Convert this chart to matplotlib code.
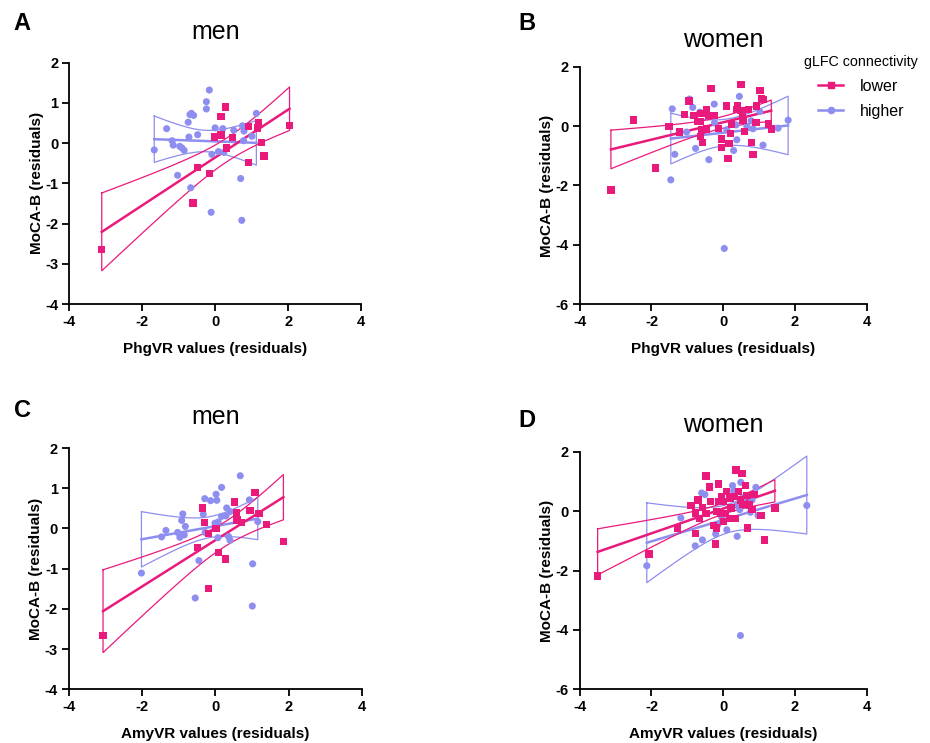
import numpy as np
import matplotlib
matplotlib.use("Agg")
import matplotlib.pyplot as plt
from matplotlib.lines import Line2D

plt.rcParams['font.family'] = ['Liberation Sans', 'DejaVu Sans']
plt.rcParams['axes.unicode_minus'] = False

# ---------------- data ----------------
# Panel A: men, PhgVR
a_low_x = [-3.11, 0.29, 0.16, 1.19, 0.91, 1.16, 2.04, -0.01, 0.16, 0.47, 0.31, 1.28, 1.34, 0.92, -0.48, -0.16, -0.61]
a_low_y = [-2.65, 0.90, 0.67, 0.51, 0.41, 0.38, 0.44, 0.15, 0.20, 0.14, -0.12, 0.02, -0.32, -0.48, -0.60, -0.75, -1.49]
a_high_x = [-0.16, -0.24, -0.24, -0.69, -0.65, -0.59, -0.74, 1.13, -1.33, 0.00, 0.21, 0.51, 0.75, 0.79, 1.01, -0.72,
            -0.48, -1.18, -1.15, -0.97, -0.91, -0.85, -1.67, 0.78, 0.09, 0.24, -0.09, -1.03, -0.67, 0.70, -0.11, 0.73]
a_high_y = [1.32, 1.03, 0.85, 0.71, 0.74, 0.69, 0.52, 0.74, 0.36, 0.38, 0.36, 0.32, 0.43, 0.30, 0.17, 0.15,
            0.21, 0.06, -0.05, -0.08, -0.12, -0.18, -0.17, 0.06, -0.21, -0.23, -0.28, -0.80, -1.11, -0.88, -1.72, -1.92]

# Panel B: women, PhgVR
b_low_x = [-3.13, -1.89, -2.50, -1.51, -1.21, -1.08, -0.95, -0.34, 0.50, 1.03, 1.06, 1.13, 0.09, 0.40, 0.92, 0.71,
           0.38, 0.50, 0.54, -0.47, -0.81, -0.62, -0.41, -0.25, -0.72, -0.64, 0.55, 0.23, 0.91, -0.60, -0.46, -0.13,
           0.20, 0.59, 1.34, -0.64, -0.58, -0.04, -0.04, 0.16, 0.78, 0.13, 0.83, 1.26]
b_low_y = [-2.15, -1.41, 0.21, -0.01, -0.20, 0.38, 0.84, 1.26, 1.39, 1.19, 0.92, 0.89, 0.68, 0.70, 0.68, 0.56,
           0.55, 0.53, 0.46, 0.55, 0.36, 0.42, 0.36, 0.36, 0.16, 0.16, 0.21, 0.07, 0.13, -0.12, -0.10, -0.07,
           -0.24, -0.18, -0.10, -0.35, -0.55, -0.44, -0.72, -0.59, -0.55, -1.09, -0.95, 0.07]
b_high_x = [-1.42, -1.35, -1.46, -1.02, -0.77, -0.40, -0.94, -0.85, -0.65, -0.25, 0.45, -0.24, 0.10, 0.38, 0.29,
            0.66, 0.83, 0.78, 1.02, 1.11, 1.53, 1.81, 0.03, 0.36, 0.57]
b_high_y = [0.58, -0.95, -1.81, -0.20, -0.75, -1.13, 0.91, 0.63, 0.47, 0.74, 1.00, 0.11, -0.12, -0.46, -0.82,
            -0.01, -0.09, 0.18, 0.49, -0.64, -0.07, 0.20, -4.12, 0.04, 0.33]

# Panel C: men, AmyVR
c_low_x = [-3.07, 1.08, 0.52, -0.36, 0.95, 0.57, 1.19, 0.59, 0.72, -0.30, 0.02, -0.19, 1.39, 1.86, -0.48, 0.08, 0.27, -0.19]
c_low_y = [-2.66, 0.89, 0.66, 0.51, 0.44, 0.40, 0.37, 0.21, 0.14, 0.14, 0.00, -0.12, 0.09, -0.33, -0.48, -0.60, -0.76, -1.49]
c_high_x = [0.68, 0.17, 0.02, -0.29, -0.13, 0.04, 0.93, -0.89, -0.33, 0.31, 0.40, 0.17, 0.29, -0.92, 0.08, -0.01,
            1.16, -0.82, -1.35, -1.03, -0.85, -0.97, -1.47, -0.28, 0.07, 0.36, 0.40, -2.02, -0.45, 1.02, -0.55, 1.01]
c_high_y = [1.31, 1.02, 0.85, 0.74, 0.69, 0.70, 0.71, 0.36, 0.35, 0.51, 0.42, 0.30, 0.31, 0.20, 0.16, 0.13,
            0.17, 0.05, -0.05, -0.10, -0.16, -0.22, -0.21, -0.10, -0.23, -0.20, -0.29, -1.11, -0.80, -0.88, -1.73, -1.93]

# Panel D: women, AmyVR
d_low_x = [-3.50, -2.07, -1.28, -0.77, -0.22, -0.90, -0.70, -0.48, -0.38, -0.13, -0.57, -0.78, -0.66, -0.36, -0.48,
           -0.27, -0.18, -0.13, -0.04, -0.01, -0.18, -0.07, 0.01, 0.10, 0.18, 0.19, 0.30, 0.22, 0.36, 0.52, 0.63,
           0.43, 0.34, 0.06, 0.66, 0.73, 0.80, 0.88, 1.05, 0.68, 1.15, 1.44, 0.48, 0.54]
d_low_y = [-2.18, -1.44, -0.57, -0.76, -1.11, 0.19, 0.37, 1.18, 0.81, 0.91, 0.13, -0.06, -0.25, 0.32, -0.08,
           -0.48, -0.57, 0.32, 0.50, 0.33, -0.01, -0.08, -0.34, 0.67, -0.26, 0.42, 0.50, 0.11, 1.38, 1.26, 0.87,
           0.65, -0.26, -0.08, 0.52, 0.20, 0.05, 0.56, -0.14, -0.57, -0.97, 0.10, 0.37, 0.22]
d_high_x = [-2.13, -1.18, -0.78, -0.58, -0.60, -0.51, -0.21, -0.15, 0.10, 0.39, 0.26, 0.49, 0.29, 0.91, 0.80,
            0.57, 0.46, 0.76, 0.97, 2.33, 0.48, -0.04, 0.38]
d_high_y = [-1.84, -0.23, -1.17, -0.97, 0.61, 0.56, -0.77, -0.46, -0.63, -0.85, 0.86, 0.97, 0.69, 0.80, 0.37,
            0.45, 0.05, -0.04, -0.15, 0.19, -4.19, -0.21, 0.19]

panel_letters = ['A', 'B', 'C', 'D']
panel_titles = ['men', 'women', 'men', 'women']
x_labels = ['PhgVR values (residuals)', 'PhgVR values (residuals)',
            'AmyVR values (residuals)', 'AmyVR values (residuals)']
y_label = 'MoCA-B (residuals)'
legend_title = 'gLFC connectivity'
group_names = ['lower', 'higher']
x_ticks = [-4, -2, 0, 2, 4]
y_ticks_men = [-4, -3, -2, -1, 0, 1, 2]
y_ticks_women = [-6, -4, -2, 0, 2]

PINK = '#EA1A7C'
BLUE = '#8E8EF0'


def t975(df):
    z = 1.959964
    g1 = (z**3 + z) / 4
    g2 = (5*z**5 + 16*z**3 + 3*z) / 96
    g3 = (3*z**7 + 19*z**5 + 17*z**3 - 15*z) / 384
    return z + g1/df + g2/df**2 + g3/df**3


def fit_with_band(ax, x, y, color, lw_line=1.8, lw_band=0.9):
    x = np.asarray(x, float)
    y = np.asarray(y, float)
    n = len(x)
    b, a = np.polyfit(x, y, 1)
    xs = np.linspace(x.min(), x.max(), 100)
    yh = a + b * xs
    resid = y - (a + b * x)
    s = np.sqrt(np.sum(resid**2) / (n - 2))
    sxx = np.sum((x - x.mean())**2)
    se = s * np.sqrt(1.0/n + (xs - x.mean())**2 / sxx)
    t = t975(n - 2)
    up = yh + t * se
    lo = yh - t * se
    ax.plot(xs, yh, color=color, lw=lw_line, zorder=3)
    px = np.concatenate([xs, xs[::-1], xs[:1]])
    py = np.concatenate([up, lo[::-1], up[:1]])
    ax.plot(px, py, color=color, lw=lw_band, zorder=3)


fig = plt.figure(figsize=(9.3, 7.43), dpi=100)

rects = [
    (69.3/930, 1 - 304.0/743, (361.0 - 69.3)/930, (304.0 - 62.7)/743),
    (579.7/930, 1 - 304.3/743, (866.7 - 579.7)/930, (304.3 - 66.7)/743),
    (69.0/930, 1 - 689.3/743, (361.7 - 69.0)/930, (689.3 - 448.0)/743),
    (579.7/930, 1 - 689.3/743, (866.7 - 579.7)/930, (689.3 - 451.7)/743),
]

data = [
    (a_low_x, a_low_y, a_high_x, a_high_y),
    (b_low_x, b_low_y, b_high_x, b_high_y),
    (c_low_x, c_low_y, c_high_x, c_high_y),
    (d_low_x, d_low_y, d_high_x, d_high_y),
]

for i, (rect, (lx, ly, hx, hy)) in enumerate(zip(rects, data)):
    ax = fig.add_axes(rect)
    women = (i % 2 == 1)
    ax.scatter(hx, hy, s=26, marker='o', color=BLUE, edgecolors='none', zorder=4, clip_on=False)
    ax.scatter(lx, ly, s=28, marker='s', color=PINK, edgecolors='none', zorder=5, clip_on=False)
    fit_with_band(ax, hx, hy, BLUE)
    fit_with_band(ax, lx, ly, PINK)
    ax.set_xlim(-4, 4)
    ax.set_xticks(x_ticks)
    if women:
        ax.set_ylim(-6, 2)
        ax.set_yticks(y_ticks_women)
    else:
        ax.set_ylim(-4, 2)
        ax.set_yticks(y_ticks_men)
    for sp in ['top', 'right']:
        ax.spines[sp].set_visible(False)
    for sp in ['left', 'bottom']:
        ax.spines[sp].set_linewidth(1.3)
    ax.tick_params(axis='both', direction='out', length=5, width=1.3, labelsize=10.5, pad=3)
    for lab in ax.get_xticklabels() + ax.get_yticklabels():
        lab.set_fontweight('bold')
    ax.set_xlabel(x_labels[i], fontsize=11, fontweight='bold', labelpad=9)
    ax.set_ylabel(y_label, fontsize=11, fontweight='bold', labelpad=1)
    ax.set_title(panel_titles[i], fontsize=18, pad=17 if not women else 14)

# panel letters
letter_pos = [(22/930, 1 - 23/743), (527/930, 1 - 24/743), (22/930, 1 - 411/743), (527/930, 1 - 421/743)]
for L, (fx, fy) in zip(panel_letters, letter_pos):
    fig.text(fx, fy, L, fontsize=17, fontweight='bold', ha='center', va='center')

handles = [Line2D([0], [0], color=PINK, marker='s', markersize=4.5, lw=1.8),
           Line2D([0], [0], color=BLUE, marker='o', markersize=4.5, lw=1.8)]
leg = fig.legend(handles, group_names, title=legend_title, loc='upper right',
                 bbox_to_anchor=(929/930, 1 - 44/743), frameon=False, fontsize=11.5,
                 title_fontsize=10.3, handlelength=1.6, labelspacing=0.62, handletextpad=1.0,
                 borderpad=0.2)

fig.savefig('out.png', dpi=100)
